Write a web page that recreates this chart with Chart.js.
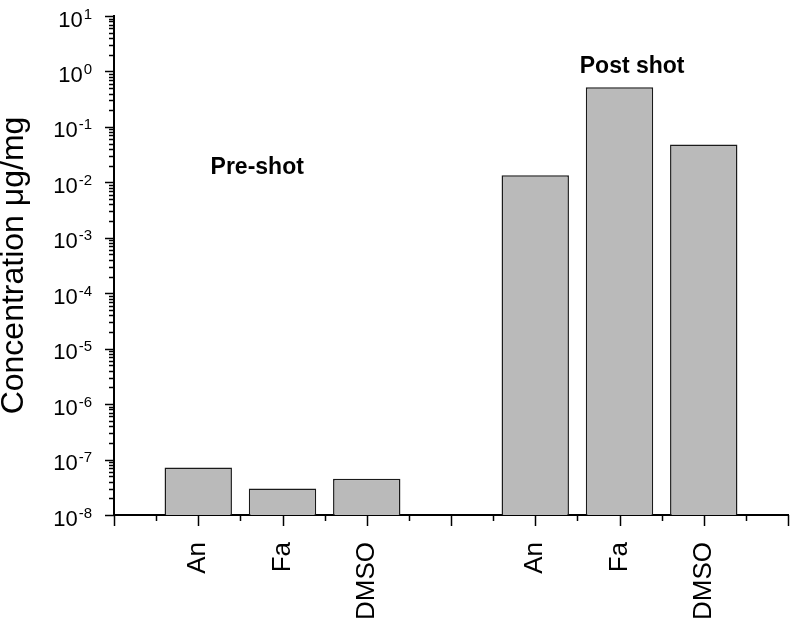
<!DOCTYPE html>
<html>
<head>
<meta charset="utf-8">
<script src="https://cdn.jsdelivr.net/npm/chart.js@4"></script>
<style>
  html, body { margin: 0; padding: 0; background: #fff; }
  #wrap { width: 792px; height: 624px; }
</style>
</head>
<body>
<div id="wrap"><canvas id="concChart" width="792" height="624"></canvas></div>
<script>
// categories along the x axis (empty slots are spacers)
const categories = ['', 'An', 'Fa', 'DMSO', '', 'An', 'Fa', 'DMSO', ''];
// concentrations in ug/mg
const preShot = [7.2e-8, 3.0e-8, 4.5e-8];
const postShot = [0.0134, 0.52, 0.048];
// decade exponents for the y tick labels
const yExponents = [1, 0, -1, -2, -3, -4, -5, -6, -7, -8];
const notes = [
    { text: 'Pre-shot', x: 1.7, y: 0.014 },
    { text: 'Post shot', x: 6.15, y: 0.93 }
];

const values = [null, ...preShot, null, ...postShot, null];
const FONT = "'Liberation Sans', Arial, sans-serif";

function supExp(n) {
    return n < 0 ? '-' + Math.abs(n) : String(n);
}

const axisDecor = {
    id: 'axisDecor',
    afterDraw(chart) {
        const ctx = chart.ctx;
        const xs = chart.scales.x;
        const ys = chart.scales.y;
        const bottom = chart.chartArea.bottom;
        const left = chart.chartArea.left;
        ctx.save();
        ctx.strokeStyle = '#000';
        ctx.lineWidth = 1.5;

        // x ticks: major at each slot, minor half way between
        for (let i = 0; i < categories.length; i++) {
            const px = Math.round(xs.getPixelForValue(i)) + 0.5;
            ctx.beginPath();
            ctx.moveTo(px, bottom);
            ctx.lineTo(px, bottom + 11);
            ctx.stroke();
            if (i < categories.length - 1) {
                const mx = Math.round(xs.getPixelForValue(i + 0.5)) + 0.5;
                ctx.beginPath();
                ctx.moveTo(mx, bottom);
                ctx.lineTo(mx, bottom + 6);
                ctx.stroke();
            }
        }

        // y ticks: decades long, 2..9 short
        const minE = Math.min(...yExponents);
        const maxE = Math.max(...yExponents);
        for (let e = minE; e <= maxE; e++) {
            for (let k = 1; k <= 9; k++) {
                if (e === maxE && k > 1) break;
                const v = k * Math.pow(10, e);
                const py = Math.round(ys.getPixelForValue(v)) + 0.5;
                ctx.beginPath();
                ctx.moveTo(left, py);
                ctx.lineTo(left - (k === 1 ? 9 : 5), py);
                ctx.stroke();
            }
        }

        // y tick labels 10^n
        ctx.fillStyle = '#000';
        ctx.textBaseline = 'alphabetic';
        yExponents.forEach(function (e) {
            const py = ys.getPixelForValue(Math.pow(10, e));
            const ex = supExp(e);
            ctx.font = '15px ' + FONT;
            const ew = ctx.measureText(ex).width;
            ctx.textAlign = 'right';
            ctx.fillText(ex, left - 22, py + 2.5);
            ctx.font = '22px ' + FONT;
            ctx.fillText('10', left - 23 - ew, py + 10.5);
        });

        // group notes
        ctx.font = 'bold 23px ' + FONT;
        ctx.textAlign = 'center';
        notes.forEach(function (n) {
            ctx.fillText(n.text, xs.getPixelForValue(n.x), ys.getPixelForValue(n.y));
        });
        ctx.restore();
    }
};

new Chart(document.getElementById('concChart').getContext('2d'), {
    type: 'bar',
    data: {
        labels: categories,
        datasets: [{
            data: values,
            backgroundColor: '#bababa',
            borderColor: '#1a1a1a',
            borderWidth: 1.5,
            barPercentage: 0.8,
            categoryPercentage: 1.0
        }]
    },
    options: {
        responsive: false,
        animation: false,
        layout: { padding: { top: 16, right: 4, left: 0, bottom: 0 } },
        plugins: {
            legend: { display: false },
            tooltip: { enabled: false }
        },
        scales: {
            x: {
                type: 'category',
                offset: false,
                grid: { display: false, drawTicks: false },
                border: { display: true, color: '#000', width: 2 },
                ticks: {
                    autoSkip: false,
                    maxRotation: 90,
                    minRotation: 90,
                    padding: 27,
                    color: '#000',
                    font: { family: FONT, size: 26 }
                },
                afterFit: function (s) {
                    s.height = 109;
                    s.paddingLeft = 0;
                    s.paddingRight = 0;
                }
            },
            y: {
                type: 'logarithmic',
                min: 1e-8,
                max: 10,
                grid: { display: false, drawTicks: false },
                border: { display: true, color: '#000', width: 2 },
                ticks: { display: false },
                title: {
                    display: true,
                    text: 'Concentration μg/mg',
                    color: '#000',
                    font: { family: FONT, size: 32, lineHeight: 0.875 },
                    padding: 0
                },
                afterFit: function (s) {
                    s.width = 114;
                    s.paddingTop = 0;
                    s.paddingBottom = 0;
                }
            }
        }
    },
    plugins: [axisDecor]
});
</script>
</body>
</html>
